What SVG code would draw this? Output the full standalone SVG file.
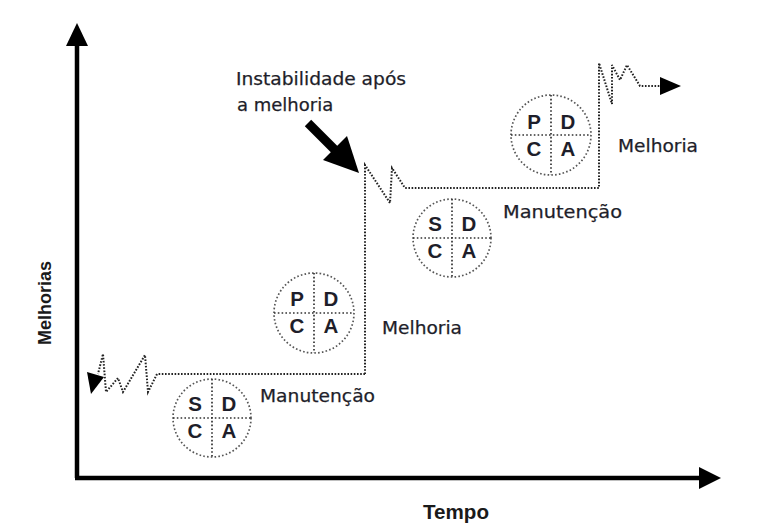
<svg xmlns="http://www.w3.org/2000/svg" width="781" height="524" viewBox="0 0 781 524">
<style>
.lbl{font-family:"DejaVu Sans",Verdana,sans-serif;font-size:18px;fill:#1e1e2a;stroke:#1e1e2a;stroke-width:0.25}
.ax{font-family:"Liberation Sans",Arial,sans-serif;font-weight:bold;fill:#1a1a1a}
.ring{fill:none;stroke:#555;stroke-width:1.7;stroke-dasharray:1.6 2.2}
.cross{stroke:#333;stroke-width:1.7;stroke-dasharray:1.6 2.2}
.let{font-family:"Liberation Sans",Arial,sans-serif;font-weight:bold;font-size:20.5px;fill:#1e1e2a;text-anchor:middle}
.dot{fill:none;stroke:#222;stroke-width:2;stroke-dasharray:1.6 1.6}
</style>
<rect width="781" height="524" fill="#fff"/>
<g id="axes">
<line x1="77" y1="478" x2="77" y2="42" stroke="#000" stroke-width="4.5"/>
<polygon points="77,23 66,46 88,46" fill="#000"/>
<line x1="75" y1="478" x2="702" y2="478" stroke="#000" stroke-width="4.5"/>
<polygon points="721,478 699,467 699,489" fill="#000"/>
<text class="ax" x="423" y="519" font-size="20" textLength="66" lengthAdjust="spacingAndGlyphs">Tempo</text>
<text class="ax" font-size="18" text-anchor="middle" transform="translate(51,303) rotate(-90)">Melhorias</text>
</g>
<g id="connectors">
<path class="dot" d="M365,374 L157,374 L148,392 L145,355 L123,392 L118,378 L106,392 L103,354 L98,374"/>
<polygon points="87,372 104,377 91,394" fill="#000"/>
<path class="dot" d="M365,374 L365,165 L390,203 L392,168 L405,188 L599,188 L599,63 L612,104 L612,65 L620,80 L627,65 L640,86 L662,86"/>
<polygon points="681,86 660,77 660,95" fill="#000"/>
<line x1="308" y1="123" x2="338" y2="153" stroke="#000" stroke-width="9"/>
<polygon points="359,173 323,160 347,136" fill="#000"/>
</g>
<g id="sdca1">
<circle class="ring" cx="212" cy="418" r="39"/>
<line class="cross" x1="173" y1="418" x2="251" y2="418"/>
<line class="cross" x1="212" y1="379" x2="212" y2="457"/>
<text class="let" x="195" y="411">S</text><text class="let" x="229" y="411">D</text>
<text class="let" x="195" y="438">C</text><text class="let" x="229" y="438">A</text>
</g>
<g id="pdca1">
<circle class="ring" cx="314" cy="313" r="40"/>
<line class="cross" x1="274" y1="313" x2="354" y2="313"/>
<line class="cross" x1="314" y1="273" x2="314" y2="353"/>
<text class="let" x="297" y="306">P</text><text class="let" x="331" y="306">D</text>
<text class="let" x="297" y="333">C</text><text class="let" x="331" y="333">A</text>
</g>
<g id="sdca2">
<circle class="ring" cx="452" cy="238" r="39"/>
<line class="cross" x1="413" y1="238" x2="491" y2="238"/>
<line class="cross" x1="452" y1="199" x2="452" y2="277"/>
<text class="let" x="435" y="231">S</text><text class="let" x="469" y="231">D</text>
<text class="let" x="435" y="258">C</text><text class="let" x="469" y="258">A</text>
</g>
<g id="pdca2">
<circle class="ring" cx="551" cy="135" r="40"/>
<line class="cross" x1="511" y1="135" x2="591" y2="135"/>
<line class="cross" x1="551" y1="95" x2="551" y2="175"/>
<text class="let" x="534" y="129">P</text><text class="let" x="568" y="129">D</text>
<text class="let" x="534" y="156">C</text><text class="let" x="568" y="156">A</text>
</g>
<g id="labels">
<text class="lbl" x="236" y="85" textLength="170" lengthAdjust="spacingAndGlyphs">Instabilidade após</text>
<text class="lbl" x="237" y="111">a melhoria</text>
<text class="lbl" x="260" y="402" textLength="115" lengthAdjust="spacingAndGlyphs">Manutenção</text>
<text class="lbl" x="503" y="218" textLength="119" lengthAdjust="spacingAndGlyphs">Manutenção</text>
<text class="lbl" x="382" y="334" textLength="80" lengthAdjust="spacingAndGlyphs">Melhoria</text>
<text class="lbl" x="618" y="152" textLength="80" lengthAdjust="spacingAndGlyphs">Melhoria</text>
</g>
</svg>
